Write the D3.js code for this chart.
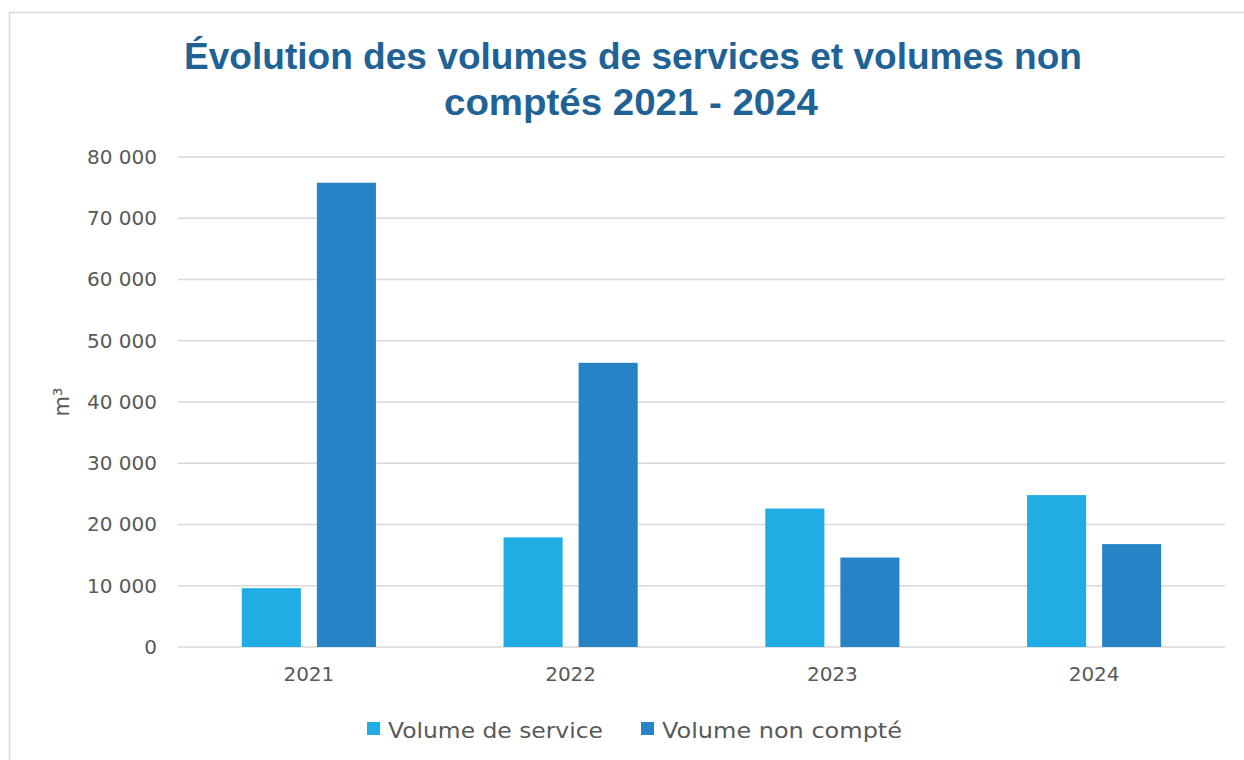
<!DOCTYPE html>
<html>
<head>
<meta charset="utf-8">
<script src="https://cdn.jsdelivr.net/npm/d3@7"></script>
<style>
  body { margin: 0; background: #fff; }
  svg { display: block; }
</style>
</head>
<body>
<svg id="chart" width="1244" height="760"></svg>
<script>
const years = ["2021", "2022", "2023", "2024"];
const seriesNames = ["Volume de service", "Volume non compté"];
const volumeService = [9600, 17900, 22600, 24800];
const volumeNonCompte = [75800, 46400, 14600, 16800];
const yTicks = [0, 10000, 20000, 30000, 40000, 50000, 60000, 70000, 80000];
const colors = ["#1FADE4", "#2683C6"];

const margin = { top: 157, right: 19, bottom: 113, left: 178 };
const width = 1244, height = 760;
const innerW = width - margin.left - margin.right;
const innerH = height - margin.top - margin.bottom;
const labelFont = "'DejaVu Sans', Verdana, sans-serif";

const rows = years.map((y, i) => ({ year: y, values: [volumeService[i], volumeNonCompte[i]] }));

const svg = d3.select("#chart");

// chart border
svg.append("rect")
  .attr("x", 9.5).attr("y", 12.5)
  .attr("width", 1250).attr("height", 760)
  .attr("fill", "none").attr("stroke", "#d9d9d9").attr("stroke-width", 1.5);

// title
const title = svg.append("text")
  .attr("text-anchor", "middle")
  .attr("fill", "#1F6396")
  .style("font-family", "'Liberation Sans', Arial, sans-serif")
  .style("font-weight", "bold")
  .style("font-size", "36px");
title.append("tspan").attr("x", 633).attr("y", 69)
  .attr("textLength", 898).attr("lengthAdjust", "spacingAndGlyphs")
  .text("Évolution des volumes de services et volumes non");
title.append("tspan").attr("x", 631).attr("y", 115)
  .attr("textLength", 374).attr("lengthAdjust", "spacingAndGlyphs")
  .text("comptés 2021 - 2024");

const g = svg.append("g").attr("transform", `translate(${margin.left},${margin.top})`);

const x0 = d3.scaleBand().domain(years).range([0, innerW]).padding(0);
const x1 = d3.scaleBand().domain(seriesNames).range([0, x0.bandwidth()])
  .paddingInner(0.213).paddingOuter(0.85);
const y = d3.scaleLinear().domain([0, 80000]).range([innerH, 0]);

const fmt = d => d3.format(",")(d).replace(/,/g, " ");

// gridlines
g.append("g")
  .selectAll("line")
  .data(yTicks)
  .join("line")
  .attr("x1", 0).attr("x2", innerW)
  .attr("y1", d => y(d)).attr("y2", d => y(d))
  .attr("stroke", "#d9d9d9").attr("stroke-width", 1.5);

// y axis labels
const yAxis = g.append("g")
  .call(d3.axisLeft(y).tickValues(yTicks).tickFormat(fmt).tickSize(0).tickPadding(21));
yAxis.select(".domain").remove();
yAxis.selectAll("text")
  .attr("fill", "#595959")
  .style("font-family", labelFont)
  .style("font-size", "20px");

// x axis labels
const xAxis = g.append("g")
  .attr("transform", `translate(0,${innerH})`)
  .call(d3.axisBottom(x0).tickSize(0).tickPadding(20));
xAxis.select(".domain").remove();
xAxis.selectAll("text")
  .attr("fill", "#595959")
  .style("font-family", labelFont)
  .style("font-size", "20px");

// bars
g.append("g")
  .selectAll("g")
  .data(rows)
  .join("g")
  .attr("transform", d => `translate(${x0(d.year)},0)`)
  .selectAll("rect")
  .data(d => d.values.map((v, i) => ({ key: seriesNames[i], value: v, idx: i })))
  .join("rect")
  .attr("x", d => x1(d.key))
  .attr("y", d => y(d.value))
  .attr("width", x1.bandwidth())
  .attr("height", d => innerH - y(d.value))
  .attr("fill", d => colors[d.idx]);

// y axis title
svg.append("text")
  .attr("transform", "translate(69,402) rotate(-90)")
  .attr("text-anchor", "middle")
  .attr("fill", "#595959")
  .style("font-family", labelFont)
  .style("font-size", "21px")
  .text("m³");

// legend
const legendX = [367, 641];
const legendLen = [215, 240];
const legend = svg.append("g")
  .selectAll("g")
  .data(seriesNames)
  .join("g")
  .attr("transform", (d, i) => `translate(${legendX[i]},722)`);
legend.append("rect")
  .attr("width", 13).attr("height", 13)
  .attr("fill", (d, i) => colors[i]);
legend.append("text")
  .attr("x", 21).attr("y", 16)
  .attr("fill", "#595959")
  .attr("textLength", (d, i) => legendLen[i])
  .attr("lengthAdjust", "spacingAndGlyphs")
  .style("font-family", labelFont)
  .style("font-size", "22px")
  .text(d => d);
</script>
</body>
</html>
